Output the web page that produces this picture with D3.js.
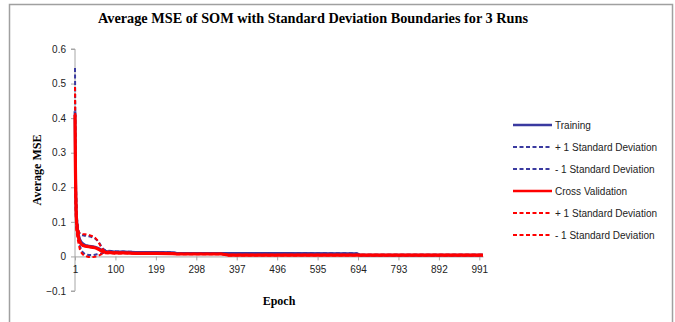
<!DOCTYPE html>
<html>
<head>
<meta charset="utf-8">
<script src="https://cdn.jsdelivr.net/npm/d3@7"></script>
<style>
    body { margin: 0; background: #fff; }
    .axis path, .axis line { stroke: #a6a6a6; }
    .axis text { font-family: "Liberation Sans", Arial, sans-serif; font-size: 10px; fill: #222; }
</style>
</head>
<body>
<div id="graph"></div>
<script>
let title = "Average MSE of SOM with Standard Deviation Boundaries for 3 Runs";

let epochs = [1, 2, 3, 4, 5, 7, 10, 13, 16, 20, 25, 30, 35, 40, 45, 50, 55, 60, 65, 70,
    75, 80, 90, 100, 120, 150, 200, 240, 250, 360, 375, 500, 690, 700, 800, 1000];

let trainMean = [0.42, 0.27, 0.18, 0.13, 0.105, 0.08, 0.06, 0.048, 0.042, 0.037, 0.033, 0.031,
    0.03, 0.029, 0.028, 0.027, 0.025, 0.022, 0.019, 0.016, 0.015, 0.014, 0.014, 0.013, 0.013,
    0.012, 0.012, 0.011, 0.009, 0.009, 0.009, 0.009, 0.008, 0.004, 0.004, 0.004];
let trainUpper = [0.545, 0.36, 0.24, 0.17, 0.13, 0.095, 0.072, 0.064, 0.062, 0.061, 0.06, 0.059,
    0.058, 0.057, 0.055, 0.052, 0.047, 0.04, 0.03, 0.022, 0.018, 0.017, 0.016, 0.015, 0.014,
    0.013, 0.013, 0.012, 0.01, 0.01, 0.01, 0.01, 0.009, 0.005, 0.005, 0.005];
let trainLower = [0.295, 0.18, 0.12, 0.09, 0.08, 0.065, 0.045, 0.03, 0.02, 0.012, 0.007, 0.005,
    0.004, 0.004, 0.004, 0.005, 0.006, 0.007, 0.008, 0.01, 0.011, 0.011, 0.012, 0.011, 0.012,
    0.011, 0.011, 0.01, 0.008, 0.008, 0.008, 0.008, 0.007, 0.003, 0.003, 0.003];

let cvMean = [0.41, 0.26, 0.17, 0.12, 0.095, 0.072, 0.052, 0.042, 0.036, 0.032, 0.03, 0.029,
    0.028, 0.027, 0.026, 0.025, 0.023, 0.02, 0.016, 0.013, 0.012, 0.011, 0.011, 0.01, 0.01,
    0.009, 0.009, 0.008, 0.007, 0.007, 0.004, 0.004, 0.004, 0.004, 0.004, 0.004];
let cvUpper = [0.49, 0.33, 0.22, 0.16, 0.12, 0.09, 0.072, 0.067, 0.066, 0.065, 0.064, 0.063,
    0.062, 0.06, 0.058, 0.054, 0.048, 0.038, 0.027, 0.019, 0.015, 0.014, 0.013, 0.012, 0.011,
    0.01, 0.01, 0.009, 0.008, 0.008, 0.005, 0.005, 0.005, 0.005, 0.005, 0.005];
let cvLower = [0.33, 0.19, 0.12, 0.08, 0.07, 0.054, 0.035, 0.02, 0.012, 0.006, 0.002, 0,
    -0.002, -0.002, -0.002, -0.001, 0.001, 0.003, 0.006, 0.008, 0.009, 0.009, 0.009, 0.008, 0.009,
    0.008, 0.008, 0.007, 0.006, 0.006, 0.003, 0.003, 0.003, 0.003, 0.003, 0.003];

let xTicks = [1, 100, 199, 298, 397, 496, 595, 694, 793, 892, 991];
let yTicks = [-0.1, 0, 0.1, 0.2, 0.3, 0.4, 0.5, 0.6];

let blue = "#3a3aa0";
let red = "#ff0000";

let series = [
    { name: "Training", values: trainMean, color: blue, width: 2.8, dash: null },
    { name: "+ 1 Standard Deviation", values: trainUpper, color: blue, width: 2, dash: "4,2.5" },
    { name: "- 1 Standard Deviation", values: trainLower, color: blue, width: 2, dash: "4,2.5" },
    { name: "Cross Validation", values: cvMean, color: red, width: 3.2, dash: null },
    { name: "+ 1 Standard Deviation", values: cvUpper, color: red, width: 2, dash: "4,2.5" },
    { name: "- 1 Standard Deviation", values: cvLower, color: red, width: 2, dash: "4,2.5" }
];

let svgWidth = 675;
let svgHeight = 322;

let svg = d3.select("#graph")
    .append("svg")
    .attr("width", svgWidth)
    .attr("height", svgHeight);

// chart frame
svg.append("rect")
    .attr("x", 9.5)
    .attr("y", 4.5)
    .attr("width", 663)
    .attr("height", 330)
    .attr("fill", "none")
    .attr("stroke", "#a0a0a0")
    .attr("stroke-width", 1.5);

let xScale = d3.scaleLinear().domain([1, 1000]).range([75, 483]);
let yScale = d3.scaleLinear().domain([-0.1, 0.6]).range([291, 49]);

let yAxis = d3.axisLeft(yScale)
    .tickValues(yTicks)
    .tickSize(4)
    .tickFormat(d => d3.format("")(+d.toFixed(1)));

svg.append("g")
    .attr("class", "axis")
    .attr("transform", "translate(" + xScale(1) + ",0)")
    .call(yAxis)
    .call(g => g.select(".domain").attr("d", "M-4," + yScale(0.6) + "H0V" + yScale(-0.1) + "H-4"))
    .selectAll("text").attr("x", -9);

let xAxis = d3.axisBottom(xScale)
    .tickValues(xTicks)
    .tickSize(4)
    .tickSizeOuter(0);

svg.append("g")
    .attr("class", "axis")
    .attr("transform", "translate(0," + yScale(0) + ")")
    .call(xAxis)
    .selectAll("text").attr("y", 9);

let line = d3.line()
    .x((d, i) => xScale(epochs[i]))
    .y(d => yScale(d));

svg.selectAll("path.series")
    .data(series)
    .enter()
    .append("path")
    .attr("class", "series")
    .attr("d", d => line(d.values))
    .attr("fill", "none")
    .attr("stroke", d => d.color)
    .attr("stroke-width", d => d.width)
    .attr("stroke-dasharray", d => d.dash)
    .attr("stroke-linejoin", "round");

// titles
svg.append("text")
    .attr("x", 313)
    .attr("y", 23)
    .attr("text-anchor", "middle")
    .attr("font-family", "'Liberation Serif', 'Times New Roman', serif")
    .attr("font-weight", "bold")
    .attr("font-size", "15px")
    .attr("textLength", 430)
    .attr("lengthAdjust", "spacingAndGlyphs")
    .text(title);

svg.append("text")
    .attr("transform", "translate(41,170) rotate(-90)")
    .attr("text-anchor", "middle")
    .attr("font-family", "'Liberation Serif', 'Times New Roman', serif")
    .attr("font-weight", "bold")
    .attr("font-size", "12px")
    .text("Average MSE");

svg.append("text")
    .attr("x", 279)
    .attr("y", 305)
    .attr("text-anchor", "middle")
    .attr("font-family", "'Liberation Serif', 'Times New Roman', serif")
    .attr("font-weight", "bold")
    .attr("font-size", "12px")
    .text("Epoch");

// legend
let legend = svg.selectAll("g.legend")
    .data(series)
    .enter()
    .append("g")
    .attr("class", "legend")
    .attr("transform", (d, i) => "translate(513," + (125 + i * 22) + ")");

legend.append("line")
    .attr("x1", 0)
    .attr("x2", 39)
    .attr("stroke", d => d.color)
    .attr("stroke-width", d => d.dash ? 1.8 : 2.5)
    .attr("stroke-dasharray", d => d.dash);

legend.append("text")
    .attr("x", 42)
    .attr("y", 3.5)
    .attr("font-family", "'Liberation Sans', Arial, sans-serif")
    .attr("font-size", "10px")
    .attr("fill", "#222")
    .text(d => d.name);
</script>
</body>
</html>
